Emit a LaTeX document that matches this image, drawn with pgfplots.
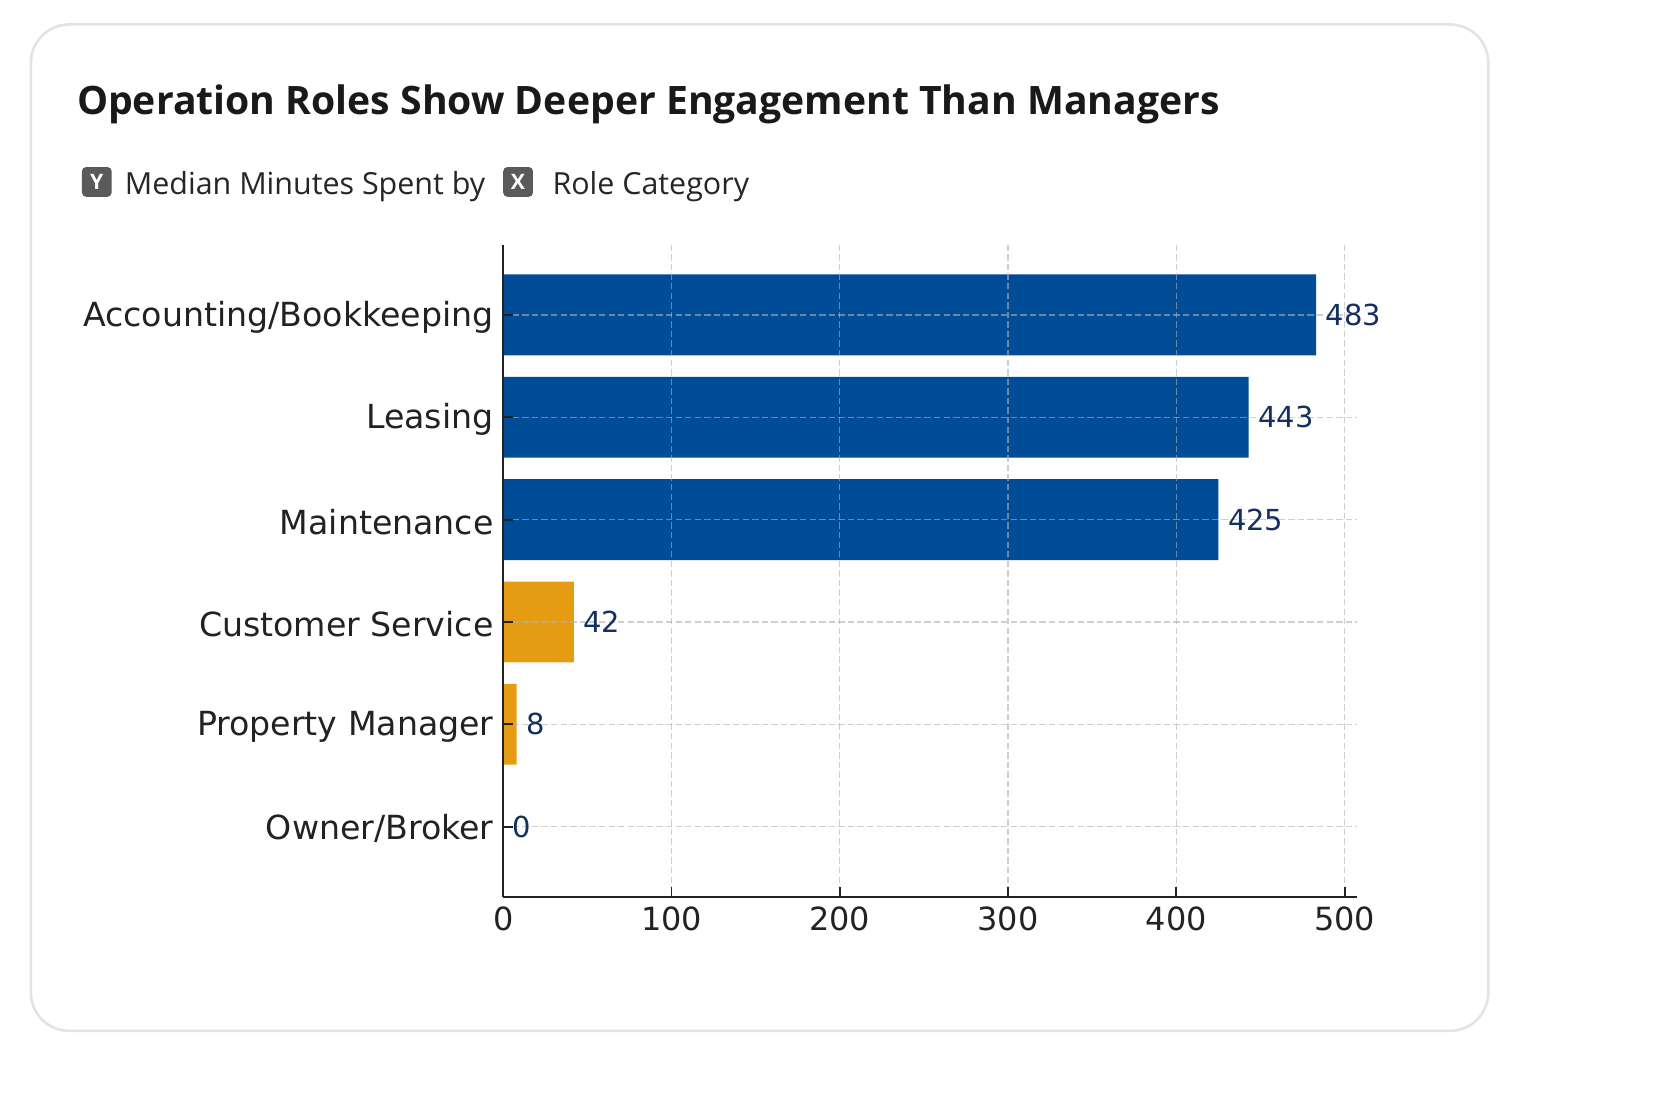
\documentclass[border=0pt]{standalone}
\usepackage{fontspec}
\usepackage{pgfplots}
\pgfplotsset{compat=1.18}
\setmainfont{DejaVu Sans}
\newfontfamily\titlefont{Open Sans}

\definecolor{barblue}{HTML}{004C97}
\definecolor{barorange}{HTML}{E59C12}
\definecolor{lblnavy}{HTML}{14305F}
\definecolor{tickgray}{HTML}{222222}
\definecolor{gridgray}{HTML}{B0B0B0}
\definecolor{cardline}{HTML}{E3E3E3}
\definecolor{iconbg}{HTML}{5A5A5A}

\begin{document}
\begin{tikzpicture}
% canvas and card, drawn in pixel units of the reference (1567 x 1027)
\begin{scope}[x=0.5pt,y=-0.5pt]
  \path[fill=white,use as bounding box] (0,0) rectangle (1567,1027);
  \draw[cardline,line width=1.2pt,rounded corners=18pt] (29,23) rectangle (1399,969);
  \node[anchor=base west,inner sep=0pt,font=\titlefont\bfseries\fontsize{18.4}{22}\selectfont,text=black!90] at (72,108)
    {Operation Roles Show Deeper Engagement Than Managers};
  \fill[iconbg,rounded corners=2pt] (77,157) rectangle (105,185);
  \node[text=white,font=\titlefont\bfseries\fontsize{10}{12}\selectfont] at (91,171) {Y};
  \node[anchor=base west,inner sep=0pt,font=\titlefont\fontsize{14.3}{17}\selectfont,text=black!85] at (117,183)
    {Median Minutes Spent by};
  \fill[iconbg,rounded corners=2pt] (473,157) rectangle (501,185);
  \node[text=white,font=\titlefont\bfseries\fontsize{10}{12}\selectfont] at (487,171) {X};
  \node[anchor=base west,inner sep=0pt,font=\titlefont\fontsize{14.3}{17}\selectfont,text=black!85] at (519,183)
    {Role Category};
\end{scope}

\begin{axis}[
    at={(236.5pt,-421.5pt)}, anchor=south west,
    scale only axis,
    width=401.5pt, height=306.5pt,
    xmin=0, xmax=507.6,
    ymin=-0.686, ymax=5.686,
    y dir=reverse,
    axis lines*=left,
    axis line style={tickgray,line width=1pt},
    axis on top,
    xtick={0,100,200,300,400,500},
    ytick={0,1,2,3,4,5},
    yticklabels={Accounting/Bookkeeping,Leasing,Maintenance,Customer Service,Property Manager,Owner/Broker},
    tick align=inside,
    major tick length=4.5pt,
    tick style={tickgray,line width=0.9pt},
    xticklabel style={font=\fontsize{15}{18}\selectfont,text=tickgray,yshift=-1pt},
    yticklabel style={font=\fontsize{15.6}{18}\selectfont,text=tickgray,xshift=-1pt,yshift=-1pt},
    /pgf/number format/assume math mode=true,
    grid=major,
    major grid style={gridgray,opacity=0.6,line width=0.6pt,dash pattern=on 3pt off 1.5pt},
    bar width=0.79,
    point meta=x,
    nodes near coords,
    nodes near coords style={anchor=west,xshift=1pt,text=lblnavy,font=\fontsize{13.6}{16}\selectfont},
]
\addplot[xbar,bar shift=0pt,fill=barblue,draw=none] coordinates {
    (483,0)
    (443,1)
    (425,2)
};
\addplot[xbar,bar shift=0pt,fill=barorange,draw=none] coordinates {
    (42,3)
    (8,4)
    (0,5)
};
\end{axis}
\end{tikzpicture}
\end{document}
